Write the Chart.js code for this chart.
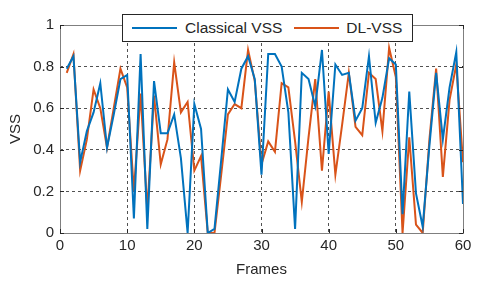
<!DOCTYPE html>
<html>
<head>
<meta charset="utf-8">
<script src="https://cdn.jsdelivr.net/npm/chart.js@4.4.0/dist/chart.umd.min.js"></script>
<style>
  html, body { margin: 0; padding: 0; background: #fff; }
  #wrap { position: relative; width: 480px; height: 283px; }
  #legend {
    position: absolute; left: 122px; top: 14px; width: 289px; height: 26px;
    border: 1px solid #262626; background: #fff; box-sizing: content-box;
    font: 15.5px 'Liberation Sans', Arial, sans-serif; color: #262626;
    display: flex; align-items: center; white-space: nowrap;
  }
  .sw { display: inline-block; flex: 0 0 45px; height: 2.5px; margin-left: 9px; margin-right: 8px; }
  .sw + .lb + .sw { margin-left: 12px; margin-right: 7px; }
  .lb { flex: 0 0 auto; }
</style>
</head>
<body>
<div id="wrap">
  <canvas id="chart" width="480" height="283"></canvas>
  <div id="legend"></div>
</div>
<script>
const frames = [1, 2, 3, 4, 5, 6, 7, 8, 9, 10, 11, 12, 13, 14, 15, 16, 17, 18, 19, 20,
  21, 22, 23, 24, 25, 26, 27, 28, 29, 30, 31, 32, 33, 34, 35, 36, 37, 38, 39, 40,
  41, 42, 43, 44, 45, 46, 47, 48, 49, 50, 51, 52, 53, 54, 55, 56, 57, 58, 59, 60]

const classicalVss = [0.79, 0.85, 0.34, 0.49, 0.58, 0.72, 0.41, 0.57, 0.74, 0.76,
  0.07, 0.86, 0.02, 0.73, 0.48, 0.48, 0.57, 0.36, 0.0, 0.62,
  0.50, 0.0, 0.02, 0.35, 0.69, 0.63, 0.79, 0.85, 0.74, 0.28,
  0.86, 0.86, 0.80, 0.58, 0.02, 0.77, 0.74, 0.61, 0.88, 0.38,
  0.81, 0.76, 0.77, 0.54, 0.60, 0.85, 0.53, 0.65, 0.84, 0.81,
  0.09, 0.68, 0.19, 0.03, 0.42, 0.77, 0.45, 0.70, 0.87, 0.14]

const dlVss = [0.77, 0.86, 0.30, 0.45, 0.69, 0.60, 0.41, 0.60, 0.79, 0.70,
  0.20, 0.67, 0.11, 0.66, 0.33, 0.45, 0.82, 0.58, 0.63, 0.30,
  0.37, 0.0, 0.0, 0.28, 0.57, 0.62, 0.60, 0.88, 0.73, 0.33,
  0.44, 0.39, 0.72, 0.70, 0.44, 0.15, 0.46, 0.74, 0.30, 0.68,
  0.28, 0.52, 0.77, 0.51, 0.47, 0.77, 0.74, 0.49, 0.89, 0.75,
  0.0, 0.46, 0.04, 0.0, 0.45, 0.79, 0.27, 0.64, 0.81, 0.34]

const seriesNames = ['Classical VSS', 'DL-VSS']
const seriesColors = ['#0072BD', '#D95319']

const xTicks = [0, 10, 20, 30, 40, 50, 60]
const yTicks = [0, 0.2, 0.4, 0.6, 0.8, 1]

const FONT = "'Liberation Sans', Arial, sans-serif"
const TEXT = '#262626'

function toPoints(vals) {
  return vals.map((v, i) => ({ x: frames[i], y: v }))
}

// box + inward ticks like the matlab axes
const framePlugin = {
  id: 'frame',
  afterDraw(chart) {
    const { ctx, chartArea: a, scales } = chart
    ctx.save()
    ctx.strokeStyle = '#7f7f7f'
    ctx.lineWidth = 1
    ctx.strokeRect(a.left + 0.5, a.top + 0.5, a.right - a.left, a.bottom - a.top)
    ctx.strokeStyle = '#262626'
    ctx.beginPath()
    for (const t of xTicks) {
      const px = Math.round(scales.x.getPixelForValue(t)) + 0.5
      ctx.moveTo(px, a.bottom); ctx.lineTo(px, a.bottom - 4)
      ctx.moveTo(px, a.top); ctx.lineTo(px, a.top + 4)
    }
    for (const t of yTicks) {
      const py = Math.round(scales.y.getPixelForValue(t)) + 0.5
      ctx.moveTo(a.left, py); ctx.lineTo(a.left + 4, py)
      ctx.moveTo(a.right, py); ctx.lineTo(a.right - 4, py)
    }
    ctx.stroke()
    ctx.restore()
  },
}

const edgeGrid = (last) => (c) =>
  c.tick && (c.tick.value === 0 || c.tick.value === last) ? 'rgba(0,0,0,0)' : '#262626'

const fmt = (v) => String(Math.round(v * 10) / 10)

const chart = new Chart(document.getElementById('chart'), {
  type: 'line',
  data: {
    datasets: [
      { label: seriesNames[0], data: toPoints(classicalVss), borderColor: seriesColors[0] },
      { label: seriesNames[1], data: toPoints(dlVss), borderColor: seriesColors[1] },
    ],
  },
  options: {
    responsive: false,
    animation: false,
    layout: { padding: { top: 25, right: 17, left: 3, bottom: 0 } },
    elements: {
      point: { radius: 0 },
      line: { borderWidth: 2, tension: 0 },
    },
    plugins: {
      legend: { display: false },
      tooltip: { enabled: false },
    },
    scales: {
      x: {
        type: 'linear',
        min: 0,
        max: 60,
        afterFit(s) { s.height = 50 },
        afterBuildTicks(s) { s.ticks = xTicks.map((v) => ({ value: v })) },
        ticks: { color: TEXT, font: { family: FONT, size: 15 }, padding: 4, maxRotation: 0, callback: fmt },
        grid: { color: edgeGrid(60), lineWidth: 0.8, drawTicks: false },
        border: { display: false, dash: [3, 3] },
        title: { display: true, text: 'Frames', color: TEXT, font: { family: FONT, size: 15 }, padding: { top: 2 } },
      },
      y: {
        min: 0,
        max: 1,
        afterFit(s) { s.width = 57 },
        afterBuildTicks(s) { s.ticks = yTicks.map((v) => ({ value: v })) },
        ticks: { color: TEXT, font: { family: FONT, size: 15 }, padding: 6, callback: fmt },
        grid: { color: edgeGrid(1), lineWidth: 0.8, drawTicks: false },
        border: { display: false, dash: [3, 3] },
        title: { display: true, text: 'VSS', color: TEXT, font: { family: FONT, size: 15 }, padding: { top: 4, bottom: 0 } },
      },
    },
  },
  plugins: [framePlugin],
})

// html legend from the datasets
const leg = document.getElementById('legend')
chart.data.datasets.forEach((ds) => {
  const sw = document.createElement('span')
  sw.className = 'sw'
  sw.style.background = ds.borderColor
  const lb = document.createElement('span')
  lb.className = 'lb'
  lb.textContent = ds.label
  leg.appendChild(sw)
  leg.appendChild(lb)
})
</script>
</body>
</html>
